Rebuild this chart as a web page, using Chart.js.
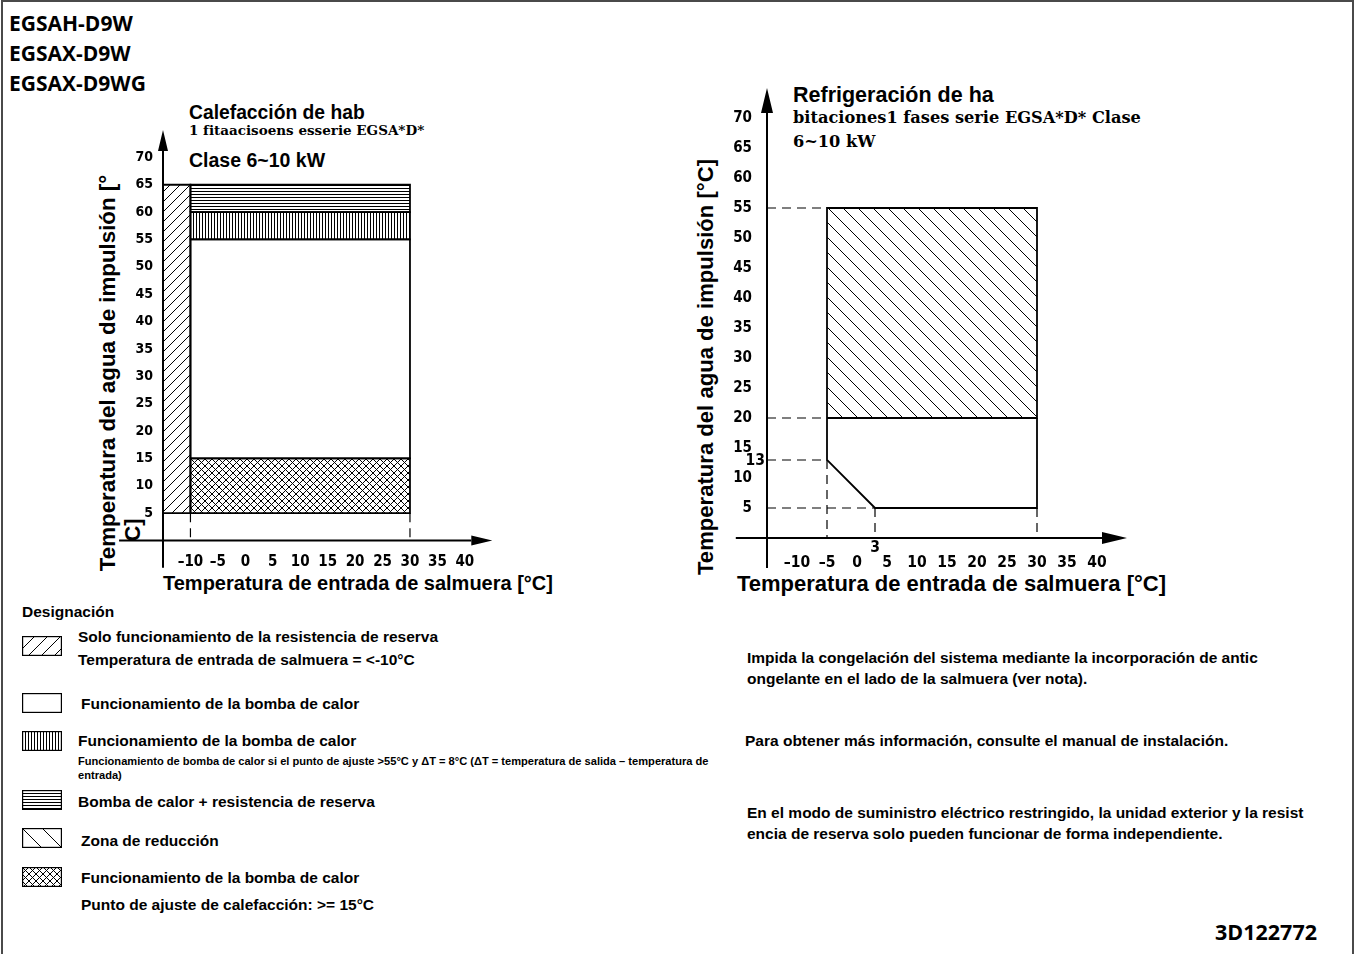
<!DOCTYPE html>
<html lang="es">
<head>
<meta charset="utf-8">
<title>EGSA*D* - rango de funcionamiento</title>
<script src="https://cdn.jsdelivr.net/npm/chart.js@4.4.1/dist/chart.umd.min.js"></script>
<style>
  html, body { margin: 0; padding: 0; background: #fff; }
  body {
    width: 1355px; height: 954px; position: relative; overflow: hidden;
    font-family: "Liberation Sans", Arial, sans-serif; font-weight: bold; color: #000;
  }
  .frame { position: absolute; left: 1px; top: 0; width: 1353px; height: 970px; border: 2px solid #4a4a4a; box-sizing: border-box; }
  .t { position: absolute; white-space: nowrap; line-height: 1; transform: translateY(-50%); }
  .rot { position: absolute; white-space: nowrap; line-height: 1; transform: translate(-50%, -50%) rotate(-90deg); }
  .model { font-family: "Open Sans", sans-serif; font-size: 21px; }
  .serif { font-family: "DejaVu Serif", "Liberation Serif", serif; }
  .note { font-size: 15.5px; }
  .sw { position: absolute; }
  canvas.chart { position: absolute; }
</style>
</head>
<body>
<div class="frame"></div>

<div class="t model" style="left:9px;top:23px">EGSAH-D9W</div>
<div class="t model" style="left:9px;top:53px">EGSAX-D9W</div>
<div class="t model" style="left:9px;top:83px">EGSAX-D9WG</div>

<!-- heating envelope -->
<div class="t" style="left:189px;top:113px;font-size:19.3px">Calefacción de hab</div>
<div class="t serif" style="left:189px;top:131px;font-size:13.5px">1 fitaacisoens esserie EGSA*D*</div>
<div class="t" style="left:189px;top:161px;font-size:19.5px">Clase 6~10 kW</div>
<div class="rot" style="left:108px;top:373px;font-size:22.3px">Temperatura del agua de impulsión [°</div>
<div class="rot" style="left:133px;top:530px;font-size:22px">C]</div>
<div class="t" style="left:163px;top:583px;font-size:20px">Temperatura de entrada de salmuera [°C]</div>
<canvas id="heatChart" class="chart" width="412" height="486" style="left:100px;top:95px"></canvas>

<!-- cooling envelope -->
<div class="t" style="left:793px;top:96px;font-size:21.5px">Refrigeración de ha</div>
<div class="t serif" style="left:793px;top:118px;font-size:16.2px">bitaciones1 fases serie EGSA*D* Clase</div>
<div class="t serif" style="left:793px;top:142px;font-size:16.2px">6~10 kW</div>
<div class="rot" style="left:706px;top:367px;font-size:22.1px">Temperatura del agua de impulsión [°C]</div>
<div class="t" style="left:737px;top:584px;font-size:22px">Temperatura de entrada de salmuera [°C]</div>
<canvas id="coolChart" class="chart" width="470" height="520" style="left:680px;top:60px"></canvas>

<!-- designation -->
<div class="t note" style="left:22px;top:612px">Designación</div>
<canvas class="sw" data-kind="/" data-step="13" width="40" height="20" style="left:22px;top:636px"></canvas>
<div class="t note" style="left:78px;top:637px">Solo funcionamiento de la resistencia de reserva</div>
<div class="t note" style="left:78px;top:660px">Temperatura de entrada de salmuera = &lt;-10°C</div>
<canvas class="sw" data-kind="" data-step="4" width="40" height="20" style="left:22px;top:693px"></canvas>
<div class="t note" style="left:81px;top:704px">Funcionamiento de la bomba de calor</div>
<canvas class="sw" data-kind="v" data-step="3" width="40" height="20" style="left:22px;top:731px"></canvas>
<div class="t note" style="left:78px;top:741px">Funcionamiento de la bomba de calor</div>
<div class="t" style="left:78px;top:762px;font-size:11.1px">Funcionamiento de bomba de calor si el punto de ajuste &gt;55°C y ΔT = 8°C (ΔT = temperatura de salida – temperatura de</div>
<div class="t" style="left:78px;top:776px;font-size:11.1px">entrada)</div>
<canvas class="sw" data-kind="h" data-step="3" width="40" height="20" style="left:22px;top:790px"></canvas>
<div class="t note" style="left:78px;top:802px">Bomba de calor + resistencia de reserva</div>
<canvas class="sw" data-kind="\" data-step="20" width="40" height="20" style="left:22px;top:828px"></canvas>
<div class="t note" style="left:81px;top:841px">Zona de reducción</div>
<canvas class="sw" data-kind="x" data-step="7" width="40" height="20" style="left:22px;top:867px"></canvas>
<div class="t note" style="left:81px;top:878px">Funcionamiento de la bomba de calor</div>
<div class="t note" style="left:81px;top:905px">Punto de ajuste de calefacción: &gt;= 15°C</div>

<!-- notes -->
<div class="t note" style="left:747px;top:658px">Impida la congelación del sistema mediante la incorporación de antic</div>
<div class="t note" style="left:747px;top:679px">ongelante en el lado de la salmuera (ver nota).</div>
<div class="t note" style="left:745px;top:741px">Para obtener más información, consulte el manual de instalación.</div>
<div class="t note" style="left:747px;top:813px">En el modo de suministro eléctrico restringido, la unidad exterior y la resist</div>
<div class="t note" style="left:747px;top:834px">encia de reserva solo pueden funcionar de forma independiente.</div>

<div class="t model" style="left:1215px;top:932px;font-size:21.5px">3D122772</div>

<script>
// axes of both envelopes (°C)
const xRange = [-15, 45];
const yRange = [0, 75];
const xTicks = [-10, -5, 0, 5, 10, 15, 20, 25, 30, 35, 40];
const yTicks = [5, 10, 15, 20, 25, 30, 35, 40, 45, 50, 55, 60, 65, 70];

// heating: backup heater only below -10 °C brine
const backupX = [-15, -10];
const backupY = [5, 65];
// heating: heat pump bands, bottom to top
const heatX = [-10, 30];
const heatBandY = [5, 15, 55, 60, 65];
const heatBandFill = ['x', '', 'v', 'h'];

// cooling: reduction zone and the normal envelope below it
const reduceX = [-5, 30];
const reduceY = [20, 55];
const coolX = [-5, -5, 3, 30, 30];
const coolY = [20, 13, 5, 5, 20];

const tickFont = '"Liberation Sans Narrow", "DejaVu Sans Condensed", "Liberation Sans", sans-serif';

function hatch(ctx, kind, step) {
  if (!kind) return null;
  const tile = document.createElement('canvas');
  tile.width = step;
  tile.height = step;
  const g = tile.getContext('2d');
  g.strokeStyle = '#000';
  g.lineWidth = 1;
  g.beginPath();
  if (kind === 'h') { g.moveTo(0, 0.5); g.lineTo(step, 0.5); }
  if (kind === 'v') { g.moveTo(0.5, 0); g.lineTo(0.5, step); }
  if (kind === '/' || kind === 'x') { g.moveTo(-1, step + 1); g.lineTo(step + 1, -1); }
  if (kind === '\\' || kind === 'x') { g.moveTo(-1, -1); g.lineTo(step + 1, step + 1); }
  g.stroke();
  return ctx.createPattern(tile, 'repeat');
}

function rectPts(xs, ys) {
  return [
    { x: xs[0], y: ys[0] }, { x: xs[1], y: ys[0] },
    { x: xs[1], y: ys[1] }, { x: xs[0], y: ys[1] },
    { x: xs[0], y: ys[0] }
  ];
}

function area(points, pattern) {
  return {
    data: points,
    showLine: true,
    fill: pattern ? 'shape' : false,
    backgroundColor: pattern || 'transparent',
    borderColor: '#000',
    borderWidth: 1.8,
    pointRadius: 0,
    tension: 0
  };
}

function guide(points) {
  return {
    data: points,
    showLine: true,
    fill: false,
    borderColor: '#000',
    borderWidth: 1.2,
    borderDash: [9, 6],
    pointRadius: 0
  };
}

function fmt(v) {
  return v < 0 ? '–' + (-v) : String(v);
}

// axis lines with arrow heads, crossing at (xRange[0], 0)
const axisArrows = {
  id: 'axisArrows',
  afterDatasetsDraw(chart, args, opts) {
    const { ctx, scales: { x, y } } = chart;
    const ox = x.getPixelForValue(xRange[0]);
    const oy = y.getPixelForValue(0);
    const xs = x.getPixelForValue(opts.xFrom);
    const xe = x.getPixelForValue(xRange[1]);
    const ys = y.getPixelForValue(opts.yFrom);
    const ye = y.getPixelForValue(yRange[1]);
    ctx.save();
    ctx.strokeStyle = '#000';
    ctx.fillStyle = '#000';
    ctx.lineWidth = 2;
    ctx.beginPath();
    ctx.moveTo(xs, oy);
    ctx.lineTo(xe - opts.head, oy);
    ctx.moveTo(ox, ys);
    ctx.lineTo(ox, ye + opts.head);
    ctx.stroke();
    ctx.beginPath();
    ctx.moveTo(xe, oy);
    ctx.lineTo(xe - opts.head, oy - opts.half);
    ctx.lineTo(xe - opts.head, oy + opts.half);
    ctx.closePath();
    ctx.moveTo(ox, ye);
    ctx.lineTo(ox - opts.half, ye + opts.head);
    ctx.lineTo(ox + opts.half, ye + opts.head);
    ctx.closePath();
    ctx.fill();
    // extra value labels on the axes
    ctx.font = 'bold ' + opts.markFont + 'px ' + tickFont;
    ctx.textBaseline = 'middle';
    (opts.yMarks || []).forEach((v) => {
      ctx.textAlign = 'right';
      ctx.fillText(String(v), ox - 2, y.getPixelForValue(v) + 1);
    });
    (opts.xMarks || []).forEach((v) => {
      ctx.textAlign = 'center';
      ctx.fillText(String(v), x.getPixelForValue(v), oy + 10);
    });
    ctx.restore();
  }
};

function makeChart(canvas, datasets, cfg) {
  return new Chart(canvas, {
    type: 'scatter',
    data: { datasets },
    plugins: [axisArrows],
    options: {
      responsive: false,
      animation: false,
      devicePixelRatio: 1,
      events: [],
      layout: { padding: { top: cfg.padTop, right: cfg.padRight, left: 0, bottom: 0 } },
      plugins: {
        legend: { display: false },
        tooltip: { enabled: false },
        axisArrows: cfg.arrows
      },
      scales: {
        x: {
          type: 'linear',
          min: xRange[0],
          max: xRange[1],
          grid: { display: false, drawTicks: false },
          border: { display: false },
          afterBuildTicks: (s) => { s.ticks = xTicks.map((value) => ({ value })); },
          afterFit: (s) => { s.height = cfg.xAxisH; },
          ticks: {
            autoSkip: false, maxRotation: 0, padding: cfg.xPad, color: '#000',
            font: { family: tickFont, size: cfg.xFont, weight: 'bold' },
            callback: (v) => fmt(v)
          }
        },
        y: {
          type: 'linear',
          min: yRange[0],
          max: yRange[1],
          grid: { display: false, drawTicks: false },
          border: { display: false },
          afterBuildTicks: (s) => { s.ticks = yTicks.map((value) => ({ value })); },
          afterFit: (s) => { s.width = cfg.yAxisW; },
          ticks: {
            autoSkip: false, padding: cfg.yPad, color: '#000',
            font: { family: tickFont, size: cfg.yFont, weight: 'bold' },
            callback: (v) => fmt(v)
          }
        }
      }
    }
  });
}

// heating chart
const heatCanvas = document.getElementById('heatChart');
const heatCtx = heatCanvas.getContext('2d');
const heatSets = [area(rectPts(backupX, backupY), hatch(heatCtx, '/', 10))];
heatBandFill.forEach((kind, i) => {
  heatSets.push(area(rectPts(heatX, [heatBandY[i], heatBandY[i + 1]]), hatch(heatCtx, kind, kind === 'x' ? 7 : 3)));
});
heatX.forEach((x) => heatSets.push(guide([{ x, y: heatBandY[0] }, { x, y: 0 }])));

makeChart(heatCanvas, heatSets, {
  padTop: 35, padRight: 19.7, yAxisW: 63, xAxisH: 40.5,
  xPad: 13, yPad: 10, xFont: 15, yFont: 14,
  arrows: { xFrom: -23, yFrom: -5, head: 21, half: 5, markFont: 15 }
});

// cooling chart
const coolCanvas = document.getElementById('coolChart');
const coolCtx = coolCanvas.getContext('2d');
const coolSets = [
  area(rectPts(reduceX, reduceY), hatch(coolCtx, '\\', 15)),
  area(coolX.map((x, i) => ({ x, y: coolY[i] })), null)
];
[reduceY[1], reduceY[0], coolY[1]].forEach((y) => coolSets.push(guide([{ x: xRange[0], y }, { x: reduceX[0], y }])));
coolSets.push(guide([{ x: xRange[0], y: coolY[2] }, { x: coolX[2], y: coolY[2] }]));
[1, 2, 3].forEach((i) => coolSets.push(guide([{ x: coolX[i], y: coolY[i] }, { x: coolX[i], y: 0 }])));

makeChart(coolCanvas, coolSets, {
  padTop: 28, padRight: 23, yAxisW: 87, xAxisH: 42,
  xPad: 15.5, yPad: 15, xFont: 15.5, yFont: 15,
  arrows: { xFrom: -20.2, yFrom: -5, head: 25, half: 6, markFont: 15.5, yMarks: [coolY[1]], xMarks: [coolX[2]] }
});

// designation swatches
document.querySelectorAll('canvas.sw').forEach((c) => {
  const g = c.getContext('2d');
  const p = hatch(g, c.dataset.kind, Number(c.dataset.step));
  if (p) {
    g.fillStyle = p;
    g.fillRect(0, 0, c.width, c.height);
  }
  g.strokeStyle = '#000';
  g.lineWidth = 1.2;
  g.strokeRect(0.6, 0.6, c.width - 1.2, c.height - 1.2);
});
</script>
</body>
</html>
